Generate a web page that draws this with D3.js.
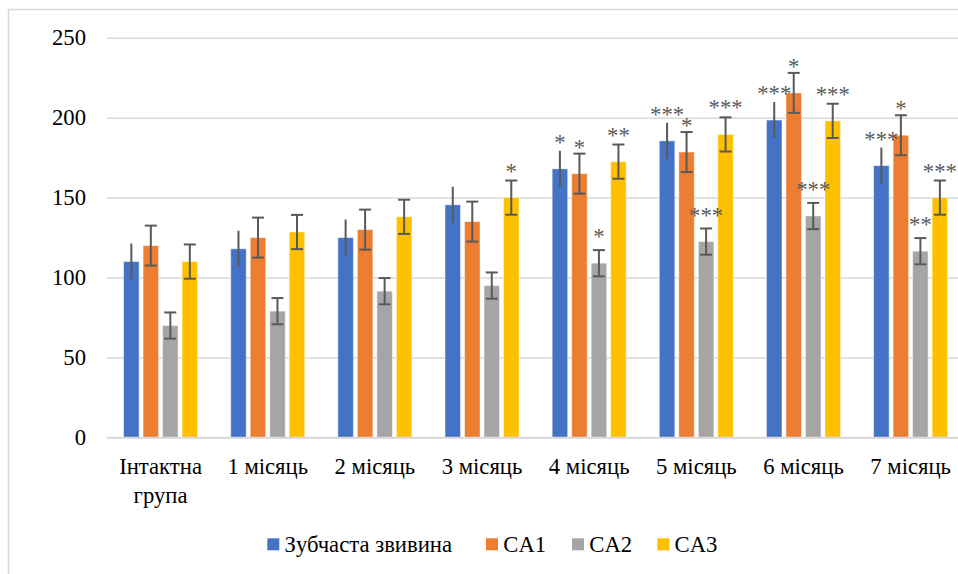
<!DOCTYPE html>
<html>
<head>
<meta charset="utf-8">
<script src="https://cdn.jsdelivr.net/npm/d3@7"></script>
<style>
  html, body { margin: 0; padding: 0; background: #fff; }
  svg { display: block; }
</style>
</head>
<body>
<svg id="chart" width="958" height="574"></svg>
<script>
// Categories (x axis) — first label wraps onto two lines
const categories = ["Інтактна група", "1 місяць", "2 місяць", "3 місяць", "4 місяць", "5 місяць", "6 місяць", "7 місяць"];
const categoryLines = [["Інтактна", "група"], ["1 місяць"], ["2 місяць"], ["3 місяць"], ["4 місяць"], ["5 місяць"], ["6 місяць"], ["7 місяць"]];

const seriesNames = ["Зубчаста звивина", "CA1", "CA2", "CA3"];
const seriesColors = ["#4472C4", "#ED7D31", "#A5A5A5", "#FFC000"];

// Mean values per series
const toothGyrus = [110, 118, 125, 145.5, 168, 185.5, 198.5, 170];
const ca1 = [120, 125, 130, 135, 165, 178.5, 215.5, 189];
const ca2 = [70, 79, 91.5, 95, 109, 122.5, 138.5, 116.5];
const ca3 = [110, 128.5, 138, 150, 172.5, 189.5, 198, 150];

// Error margins per series
const toothGyrusErr = [11.3, 11.3, 11.3, 11.3, 11.3, 11.3, 11.3, 11.3];
const ca1Err = [12.5, 12.5, 12.5, 12.5, 12.5, 12.5, 12.5, 12.5];
const ca2Err = [8.2, 8.2, 8.2, 8.2, 8.2, 8.2, 8.2, 8.2];
const ca3Err = [10.7, 10.7, 10.7, 10.7, 10.7, 10.7, 10.7, 10.7];

// Significance markers
const toothGyrusSig = ["", "", "", "", "*", "***", "***", "***"];
const ca1Sig = ["", "", "", "", "*", "*", "*", "*"];
const ca2Sig = ["", "", "", "", "*", "***", "***", "**"];
const ca3Sig = ["", "", "", "*", "**", "***", "***", "***"];

const yTicks = [0, 50, 100, 150, 200, 250];

const values = [toothGyrus, ca1, ca2, ca3];
const errors = [toothGyrusErr, ca1Err, ca2Err, ca3Err];
const sigs = [toothGyrusSig, ca1Sig, ca2Sig, ca3Sig];
const capped = [false, true, true, true];

const FONT = '"Liberation Serif", "Times New Roman", "DejaVu Serif", serif';
const fontSize = 22.7;

const svg = d3.select("#chart").style("font-family", FONT);

// outer chart frame
svg.append("rect")
  .attr("x", 8.5).attr("y", 9.5)
  .attr("width", 980).attr("height", 600)
  .attr("fill", "none").attr("stroke", "#d9d9d9").attr("stroke-width", 1.5);

const plotLeft = 107, plotRight = 960, groupStep = 107.15;
const x0 = d3.scaleBand().domain(categories).range([plotLeft, plotLeft + groupStep * categories.length]).padding(0);
const innerWidth = 78;
const x1 = d3.scaleBand().domain(seriesNames)
  .range([x0.bandwidth() / 2 - innerWidth / 2, x0.bandwidth() / 2 + innerWidth / 2])
  .paddingInner(0.205).paddingOuter(0.1025);
const y = d3.scaleLinear().domain([0, 250]).range([437.5, 37.7]);

// gridlines + y tick labels
const yAxis = d3.axisLeft(y).tickValues(yTicks).tickSize(-(plotRight - plotLeft)).tickPadding(21);
const gy = svg.append("g").attr("transform", `translate(${plotLeft},0)`).call(yAxis)
  .attr("font-family", null).attr("font-size", null);
gy.select(".domain").remove();
gy.selectAll(".tick line").attr("stroke", "#d9d9d9").attr("stroke-width", 1.5);
gy.selectAll(".tick text")
  .attr("font-size", fontSize).attr("fill", "#000")
  .style("font-family", FONT);

// bars
const groups = svg.append("g").selectAll("g")
  .data(categories).join("g")
  .attr("transform", d => `translate(${x0(d)},0)`);

seriesNames.forEach((s, si) => {
  groups.append("rect")
    .attr("x", x1(s))
    .attr("width", x1.bandwidth())
    .attr("y", (d, i) => y(values[si][i]))
    .attr("height", (d, i) => y(0) - y(values[si][i]))
    .attr("fill", seriesColors[si])
    .attr("stroke", "#ffffff").attr("stroke-opacity", 0.45).attr("stroke-width", 1);
});

// error bars
seriesNames.forEach((s, si) => {
  const cx = x1(s) + x1.bandwidth() / 2;
  const eb = groups.append("g").attr("stroke", "#595959").attr("stroke-width", 2);
  eb.append("line")
    .attr("x1", cx).attr("x2", cx)
    .attr("y1", (d, i) => y(values[si][i] + errors[si][i]))
    .attr("y2", (d, i) => y(values[si][i] - errors[si][i]));
  if (capped[si]) {
    [1, -1].forEach(sign => {
      eb.append("line")
        .attr("x1", cx - 6).attr("x2", cx + 6)
        .attr("y1", (d, i) => y(values[si][i] + sign * errors[si][i]))
        .attr("y2", (d, i) => y(values[si][i] + sign * errors[si][i]));
    });
  }
});

// significance asterisks above bars
const sigData = [];
categories.forEach((c, i) => seriesNames.forEach((s, si) => {
  if (sigs[si][i]) sigData.push({ c, s, v: values[si][i], label: sigs[si][i] });
}));
svg.append("g").selectAll("text")
  .data(sigData).join("text")
  .attr("x", d => x0(d.c) + x1(d.s) + x1.bandwidth() / 2)
  .attr("y", d => y(d.v) - 19)
  .attr("text-anchor", "middle")
  .attr("font-size", fontSize)
  .attr("fill", "#595959")
  .style("font-family", FONT)
  .text(d => d.label);

// x axis baseline
svg.append("line")
  .attr("x1", plotLeft).attr("x2", plotRight)
  .attr("y1", y(0)).attr("y2", y(0))
  .attr("stroke", "#d9d9d9").attr("stroke-width", 1.5);

// category labels
const xl = svg.append("g").selectAll("text")
  .data(categories).join("text")
  .attr("x", d => x0(d) + x0.bandwidth() / 2)
  .attr("y", 474.3)
  .attr("text-anchor", "middle")
  .attr("font-size", fontSize)
  .attr("fill", "#000")
  .style("font-family", FONT);
xl.each(function(d, i) {
  const t = d3.select(this);
  categoryLines[i].forEach((line, li) => {
    t.append("tspan").attr("x", x0(d) + x0.bandwidth() / 2).attr("dy", li === 0 ? 0 : 28.5).text(line);
  });
});

// legend
const legendX = [267.3, 486, 572, 657.3];
const legend = svg.append("g");
seriesNames.forEach((s, si) => {
  legend.append("rect")
    .attr("x", legendX[si]).attr("y", 538.3)
    .attr("width", 12).attr("height", 12)
    .attr("fill", seriesColors[si]);
  legend.append("text")
    .attr("x", legendX[si] + 17.3).attr("y", 551.7)
    .attr("font-size", fontSize).attr("fill", "#000")
    .style("font-family", FONT)
    .text(s);
});
</script>
</body>
</html>
